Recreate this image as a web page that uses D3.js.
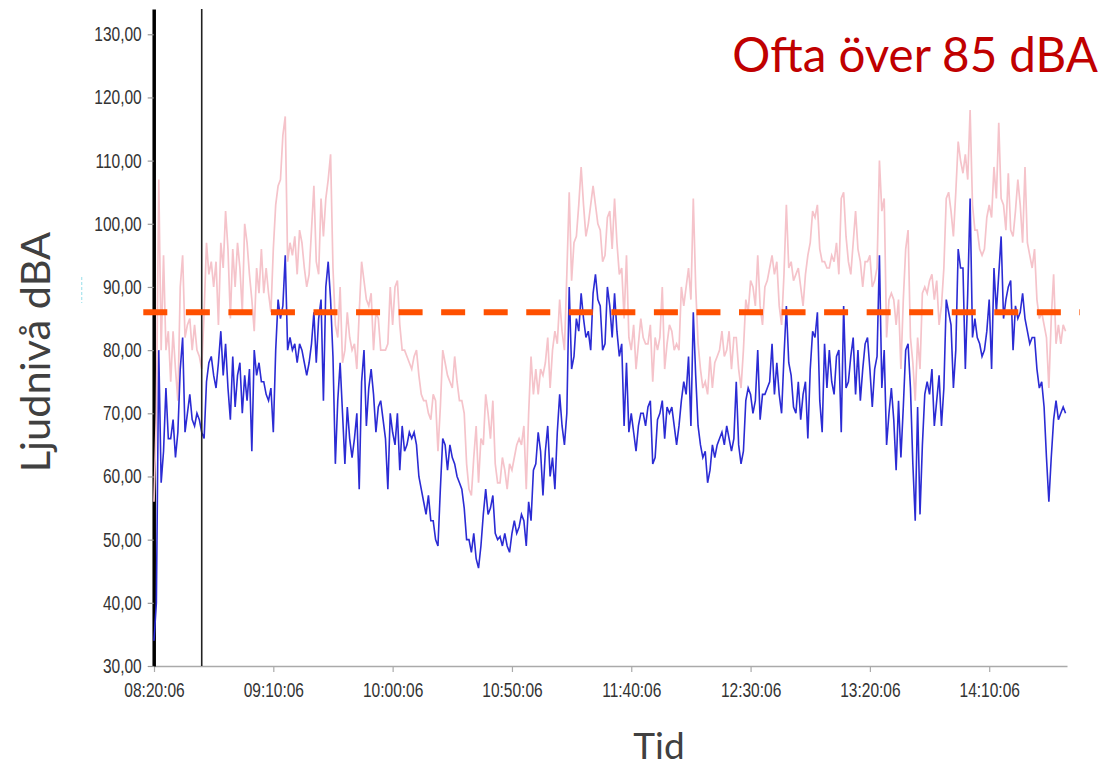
<!DOCTYPE html>
<html>
<head>
<meta charset="utf-8">
<script src="https://cdn.jsdelivr.net/npm/d3@7"></script>
<style>
  body { margin: 0; background: #fff; }
  svg { display: block; }
  .tick text { font-family: "Liberation Sans", Arial, sans-serif; font-size: 20px; fill: #333; }
  .big { font-family: Lato, "Noto Sans", sans-serif; }
</style>
</head>
<body>
<div id="chart"></div>
<script>
'use strict'
// one reading per minute, starting at startTime
const startTime = "08:20:06"
const markerTime = "08:40:06"
const limitLevel = 86

// equivalent level (blue)
const leqLevels = [
  34, 40, 80, 59, 64, 74, 66, 66, 69, 63,
  67, 77, 82, 67, 70, 73, 69, 68, 70, 69,
  67, 66, 75, 78, 79, 76, 74, 78, 83, 76,
  81, 74, 69, 79, 71, 76, 78, 70, 76, 72,
  77, 64, 80, 76, 78, 75, 75, 73, 72, 74,
  67, 80, 88, 85, 87, 95, 80, 82, 80, 81,
  78, 81, 80, 78, 76, 78, 81, 86, 78, 85,
  88, 72, 90, 94, 88, 79, 62, 72, 78, 70,
  62, 71, 66, 63, 66, 70, 58, 75, 80, 68,
  74, 77, 73, 67, 71, 72, 69, 66, 58, 70,
  67, 65, 70, 61, 68, 64, 65, 67, 66, 67,
  65, 60, 58, 56, 54, 57, 53, 53, 50, 49,
  58, 66, 65, 61, 65, 63, 62, 60, 59, 58,
  55, 50, 50, 48, 51, 47, 45.5, 49, 54, 58,
  54, 55, 57, 51, 50, 50.5, 49, 51, 49, 48,
  51, 53, 51, 52, 54, 53, 49, 56, 53, 61,
  62, 67, 64, 57, 64, 68, 60, 63, 58, 67,
  73, 68, 65, 70, 90, 77, 79, 85, 83, 89,
  85, 82, 83, 80, 89, 92, 88, 87, 80, 81,
  90, 87, 82, 89, 83, 79, 81, 68, 78, 67,
  70, 67, 64, 68, 70, 70, 68, 71, 72, 62,
  63, 69, 70, 72, 66, 71, 70, 71, 68, 65,
  68, 72, 75, 73, 79, 68, 86, 76, 68, 65,
  63, 64, 59, 61, 65, 63, 65, 66, 67, 65,
  68, 66, 64, 66, 75, 65, 62, 64, 72, 74,
  73, 70, 72, 80, 69, 73, 73, 74, 75, 81,
  73, 78, 73, 70, 79, 87, 78, 76, 71, 70,
  75, 69, 73, 75, 66, 77, 83, 82, 86, 72,
  67, 81, 74, 80, 75, 73, 79, 80, 67, 87,
  74, 75, 79, 82, 73, 80, 72, 77, 81, 82,
  77, 71, 77, 79, 95, 74, 80, 65, 70, 74,
  69, 61, 72, 63, 71, 80, 81, 74, 62, 53,
  71, 54, 65, 73, 75, 73, 77, 68, 72, 76,
  68, 74, 88, 86, 84, 74, 80, 96, 93, 93,
  77, 89, 104, 82, 85, 82, 81, 79, 80, 83,
  88, 77, 93, 86, 92, 98, 85, 88, 90, 91,
  80, 87, 85, 86, 89, 85, 83, 81, 82, 82,
  77, 74, 75, 71, 63, 56, 63, 69, 72, 69,
  70, 71, 70
]

// maximum level (pink)
const maxLevels = [
  56, 70, 107, 80, 95, 80, 83, 75, 83, 77,
  72, 90, 95, 82, 84, 85, 80, 84, 80, 79,
  77, 86, 97, 92, 94, 90, 94, 84, 97, 93,
  102, 96, 85, 96, 90, 97, 93, 86, 100, 97,
  92, 88, 83, 93, 89, 96, 89, 93, 89, 86,
  96, 103, 106, 107, 114, 117, 94, 97, 95, 98,
  92, 99, 97, 93, 90, 92, 99, 106, 94, 92,
  104, 98, 104, 107, 111, 93, 84, 82, 90, 78,
  80, 86, 82, 80, 81, 77, 86, 94, 91, 88,
  87, 89, 80, 86, 85, 80, 80, 80, 81, 90,
  84, 90, 91, 84, 80, 80, 79, 78, 77, 79,
  80, 76, 73, 72, 72, 70, 69, 73, 72, 64,
  71, 80, 78, 76, 75, 74, 79, 75, 72, 72,
  70, 62, 58, 57, 63, 68, 59, 66, 65, 73,
  70, 66, 72, 62, 59, 59, 63, 61, 58, 62,
  61, 63, 65, 66, 65, 68, 58, 70, 79, 73,
  77, 73, 77, 76, 78, 82, 74, 80, 83, 81,
  88, 83, 80, 92, 105, 91, 97, 98, 103, 109,
  103, 98, 100, 103, 106, 103, 100, 99, 94, 95,
  101, 102, 96, 104, 97, 92, 93, 85, 95, 82,
  80, 84, 77, 81, 85, 82, 81, 81, 84, 75,
  82, 80, 82, 90, 77, 81, 84, 83, 80, 81,
  80, 90, 87, 90, 93, 88, 104, 90, 81, 77,
  74, 75, 73, 79, 74, 78, 79, 80, 83, 79,
  80, 83, 77, 82, 82, 77, 74, 80, 88, 86,
  91, 90, 87, 95, 87, 84, 90, 91, 93, 95,
  92, 94, 87, 84, 92, 103, 93, 94, 91, 92,
  93, 90, 87, 92, 95, 97, 102, 101, 103, 96,
  94, 94, 93, 93, 95, 94, 97, 92, 104, 105,
  98, 94, 92, 97, 102, 96, 94, 90, 94, 94,
  95, 90, 91, 93, 110, 102, 104, 82, 88, 89,
  88, 84, 88, 77, 88, 96, 99, 82, 78, 72,
  82, 77, 89, 90, 89, 91, 92, 88, 91, 84,
  87, 93, 104, 105, 102, 98, 105, 113, 110, 108,
  111, 107, 118, 103, 99, 99, 96, 95, 96, 101,
  103, 101, 109, 104, 116, 104, 103, 99, 108, 99,
  98, 102, 107, 103, 97, 109, 97, 95, 93, 96,
  88, 85, 86, 84, 82, 74, 85, 92, 81, 84,
  81, 84, 83
]

const yTicks = [30, 40, 50, 60, 70, 80, 90, 100, 110, 120, 130]
const xTickLabels = ["08:20:06", "09:10:06", "10:00:06", "10:50:06", "11:40:06", "12:30:06", "13:20:06", "14:10:06"]
const xEnd = "14:42:42"

const width = 1108, height = 766
const plot = {left: 154, right: 1067, top: 9, bottom: 666}

const parseTime = d3.timeParse("%H:%M:%S")
const t0 = parseTime(startTime)
const toRows = levels => levels.map((v, i) => ({t: d3.timeMinute.offset(t0, i), v: v}))

const svg = d3.select("#chart")
  .append("svg")
    .attr("width", width)
    .attr("height", height)

const x = d3.scaleTime()
  .domain([t0, parseTime(xEnd)])
  .range([plot.left, plot.right])
const y = d3.scaleLinear()
  .domain([30, 134])
  .range([plot.bottom, plot.top])

const sv = d3.formatLocale({decimal: ",", thousands: " ", grouping: [3], currency: ["", " kr"]})

// x axis
const xAxis = svg.append("g")
  .attr("transform", `translate(0,${plot.bottom})`)
  .call(d3.axisBottom(x)
    .tickValues(xTickLabels.map(parseTime))
    .tickFormat(d3.timeFormat("%H:%M:%S"))
    .tickSize(6).tickSizeOuter(0).tickPadding(10.5))
xAxis.select(".domain").attr("stroke", "#aaa").attr("stroke-width", 1.5)
xAxis.selectAll(".tick line").attr("stroke", "#aaa").attr("stroke-width", 1.2)

// y axis
const yAxis = svg.append("g")
  .attr("transform", `translate(${plot.left - 0.3},0)`)
  .call(d3.axisLeft(y)
    .tickValues(yTicks)
    .tickFormat(sv.format(".2f"))
    .tickSize(6).tickSizeOuter(0).tickPadding(6))
yAxis.select(".domain").attr("stroke", "#000").attr("stroke-width", 3.5)
yAxis.selectAll(".tick line").attr("stroke", "#999").attr("stroke-width", 1.2)

// labels in the source look narrow and tall
svg.selectAll(".tick text").each(function(){
  let w = this.getComputedTextLength()
  d3.select(this)
    .attr("textLength", w * 0.775)
    .attr("lengthAdjust", "spacingAndGlyphs")
})

const line = d3.line()
  .x(d => x(d.t))
  .y(d => y(d.v))

svg.append("path")
  .datum(toRows(maxLevels))
  .attr("d", line)
  .attr("fill", "none")
  .attr("stroke", "#f5c3ca")
  .attr("stroke-width", 1.7)

svg.append("path")
  .datum(toRows(leqLevels))
  .attr("d", line)
  .attr("fill", "none")
  .attr("stroke", "#2b2bd4")
  .attr("stroke-width", 1.6)

// marker line
const mx = x(parseTime(markerTime))
svg.append("line")
  .attr("x1", mx).attr("x2", mx)
  .attr("y1", plot.top).attr("y2", plot.bottom)
  .attr("stroke", "#222")
  .attr("stroke-width", 1.6)

// 85 dBA reference
svg.append("line")
  .attr("x1", 143.3).attr("x2", 1080)
  .attr("y1", y(limitLevel)).attr("y2", y(limitLevel))
  .attr("stroke", "#ff5000")
  .attr("stroke-width", 6)
  .attr("stroke-dasharray", "24,18.55")

// small cyan mark left of the axis
svg.append("line")
  .attr("x1", 81.7).attr("x2", 81.7)
  .attr("y1", 277).attr("y2", 303)
  .attr("stroke", "#a8e4ee")
  .attr("stroke-width", 1.2)
  .attr("stroke-dasharray", "3,2")

svg.append("text")
  .attr("class", "big")
  .attr("x", 1098).attr("y", 71.7)
  .attr("text-anchor", "end")
  .attr("font-size", 47.5)
  .attr("fill", "#c00000")
  .text("Ofta över 85 dBA")

svg.append("text")
  .attr("class", "big")
  .attr("transform", "translate(50,352) rotate(-90)")
  .attr("text-anchor", "middle")
  .attr("font-size", 41.5)
  .attr("fill", "#404040")
  .text("Ljudnivå dBA")

svg.append("text")
  .attr("class", "big")
  .attr("x", 659).attr("y", 759)
  .attr("text-anchor", "middle")
  .attr("font-size", 37)
  .attr("fill", "#404040")
  .text("Tid")
</script>
</body>
</html>
